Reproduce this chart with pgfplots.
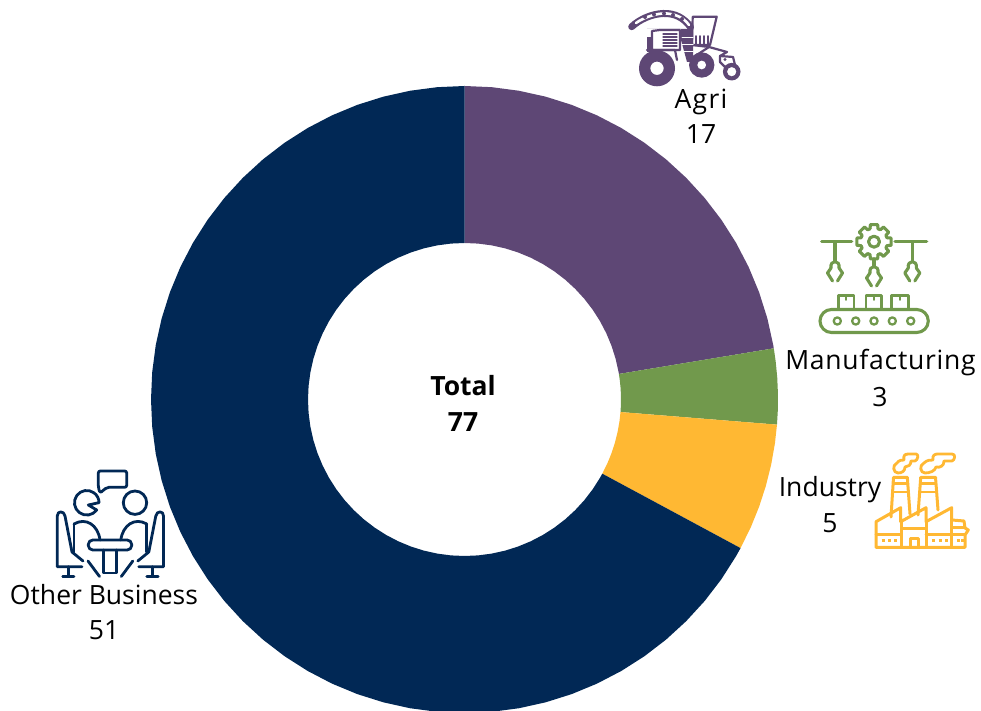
\documentclass[border=0pt]{standalone}
\usepackage{pgfplots}
\pgfplotsset{compat=1.18}
\usepackage{fontspec}
\setmainfont{Open Sans}
\definecolor{cAgri}{RGB}{94,71,117}
\definecolor{cMan}{RGB}{113,153,76}
\definecolor{cInd}{RGB}{255,184,51}
\definecolor{cOth}{RGB}{1,40,85}
\newcommand{\lab}{\fontsize{26.5}{36}\selectfont}
\newcommand{\halfperson}{%
  \draw (82,566.7) -- (57.3,566.7) -- (57.3,516) .. controls (57.3,510.5) and (64,510.5) .. (65,516) -- (72,552) -- (83,561);
  \draw (68.3,566.7) -- (68.3,576.5) (62.7,576.5) -- (74,576.5);
  \draw (74,524) .. controls (86,517) and (98,525) .. (100,540);
  \draw (74,524) -- (74,552);
  \draw (88,561) -- (99.5,576.5);
}
\begin{document}
\begin{tikzpicture}[x=1pt,y=1pt]
\useasboundingbox (0,0) rectangle (981,711);
% Shares: Agri 17, Manufacturing 3, Industry 5, Other Business 51; Total 77
\begin{axis}[at={(0,0)},anchor=south west,x=1pt,y=1pt,
  xmin=-464.5,xmax=516.5,ymin=-311.5,ymax=399.5,hide axis,clip=true]
\addplot[fill=cAgri,draw=none,data cs=polar] coordinates {
(90,313.5)(85,313.5)(80,313.5)(75,313.5)(70,313.5)(65,313.5)(60,313.5)(55,313.5)(50,313.5)(45,313.5)(40,313.5)(35,313.5)(30,313.5)(25,313.5)(20,313.5)(15,313.5)(10,313.5)(9.4,313.5)
(9.4,156.5)(10,156.5)(15,156.5)(20,156.5)(25,156.5)(30,156.5)(35,156.5)(40,156.5)(45,156.5)(50,156.5)(55,156.5)(60,156.5)(65,156.5)(70,156.5)(75,156.5)(80,156.5)(85,156.5)(90,156.5)} --cycle;
\addplot[fill=cMan,draw=none,data cs=polar] coordinates {
(9.4,313.5)(7,313.5)(4,313.5)(1,313.5)(-2,313.5)(-4.6,313.5)
(-4.6,156.5)(-2,156.5)(1,156.5)(4,156.5)(7,156.5)(9.4,156.5)} --cycle;
\addplot[fill=cInd,draw=none,data cs=polar] coordinates {
(-4.6,313.5)(-8,313.5)(-12,313.5)(-16,313.5)(-20,313.5)(-24,313.5)(-28.3,313.5)
(-28.3,156.5)(-24,156.5)(-20,156.5)(-16,156.5)(-12,156.5)(-8,156.5)(-4.6,156.5)} --cycle;
\addplot[fill=cOth,draw=none,data cs=polar] coordinates {
(-28.3,313.5)(-30,313.5)(-35,313.5)(-40,313.5)(-45,313.5)(-50,313.5)(-55,313.5)(-60,313.5)(-65,313.5)(-70,313.5)(-75,313.5)(-80,313.5)(-85,313.5)(-90,313.5)(-95,313.5)(-100,313.5)(-105,313.5)(-110,313.5)(-115,313.5)(-120,313.5)(-125,313.5)(-130,313.5)(-135,313.5)(-140,313.5)(-145,313.5)(-150,313.5)(-155,313.5)(-160,313.5)(-165,313.5)(-170,313.5)(-175,313.5)(-180,313.5)(-185,313.5)(-190,313.5)(-195,313.5)(-200,313.5)(-205,313.5)(-210,313.5)(-215,313.5)(-220,313.5)(-225,313.5)(-230,313.5)(-235,313.5)(-240,313.5)(-245,313.5)(-250,313.5)(-255,313.5)(-260,313.5)(-265,313.5)(-270,313.5)
(-270,156.5)(-265,156.5)(-260,156.5)(-255,156.5)(-250,156.5)(-245,156.5)(-240,156.5)(-235,156.5)(-230,156.5)(-225,156.5)(-220,156.5)(-215,156.5)(-210,156.5)(-205,156.5)(-200,156.5)(-195,156.5)(-190,156.5)(-185,156.5)(-180,156.5)(-175,156.5)(-170,156.5)(-165,156.5)(-160,156.5)(-155,156.5)(-150,156.5)(-145,156.5)(-140,156.5)(-135,156.5)(-130,156.5)(-125,156.5)(-120,156.5)(-115,156.5)(-110,156.5)(-105,156.5)(-100,156.5)(-95,156.5)(-90,156.5)(-85,156.5)(-80,156.5)(-75,156.5)(-70,156.5)(-65,156.5)(-60,156.5)(-55,156.5)(-50,156.5)(-45,156.5)(-40,156.5)(-35,156.5)(-30,156.5)(-28.3,156.5)} --cycle;
\end{axis}
% everything below is in image pixels, y downward
\begin{scope}[x=1pt,y=-1pt,yshift=711pt,line cap=round,line join=round]
% labels
\tikzset{t/.style={font=\lab,text=black,inner sep=0pt,anchor=base}}
\node[t] at (701,109) {\addfontfeature{LetterSpace=5}Agri};
\node[t] at (701,144) {17};
\node[t] at (880.5,370) {\addfontfeature{LetterSpace=2.8}Manufacturing};
\node[t] at (880,407) {3};
\node[t] at (830,497) {Industry};
\node[t] at (830,533) {5};
\node[t] at (104,605) {Other Business};
\node[t] at (104,640) {51};
\node[t,font=\lab\bfseries] at (463,396) {Total};
\node[t,font=\lab\bfseries] at (463,432) {77};
% tractor
\begin{scope}[draw=cAgri,fill=cAgri]
\draw[line width=7pt] (631.7,26.7) .. controls (640,19) and (652,14) .. (663,13.5) .. controls (675,13) and (684,18) .. (690.5,27);
\draw[white,line width=2.6pt] (636,23) .. controls (643,18) and (654,14) .. (663,13.5) .. controls (675,13) and (684,18) .. (689,25);
\foreach \p in {(645,17),(654,14.5),(664,13.5),(673,15),(682,19)} \fill \p circle (2);
\draw[line width=2.2pt] (692.7,16.7) -- (716.7,16.7) -- (710,45) -- (692,45) -- cycle;
\foreach \xx in {696,700,704,708} \draw[line width=1.5pt] (\xx,36) -- (\xx,44);
\draw[line width=2.2pt] (692,45) -- (709,47) -- (727,52) -- (720,56);
\fill (647,29) -- (693,29) -- (693,62) -- (687,62) -- (681,40) -- (681,29) -- cycle;
\fill[white] (652,31) rectangle (680,49);
\draw[line width=2.2pt] (652,31) -- (660,30) -- (680,30) -- (680,50) -- (652,50) -- cycle;
\foreach \yy in {34,37,40,43,46} \draw[line width=1.1pt] (663,\yy) -- (677,\yy);
\foreach \yy in {38,45,52} \draw[white,line width=1pt] (682,\yy) -- (693,\yy);
\fill (646.5,37) rectangle (652,52);
\draw[line width=2.2pt] (647,50) -- (675,50) -- (677,60);
\draw[line width=2.2pt] (689,60) -- (709,47);
\fill[even odd rule] (657,68.3) circle (18) (657,68.3) circle (6.7);
\fill[even odd rule] (701.7,65) circle (12.7) (701.7,65) circle (4.5);
\draw[line width=2.2pt,fill=white] (720,56) -- (733,57) -- (735,65) -- (725,67) -- (720,62) -- cycle;
\fill (725,59.5) circle (1.6);
\fill[even odd rule] (731.7,71.7) circle (8.8) (731.7,71.7) circle (4.7);
\end{scope}
% manufacturing
\begin{scope}[draw=cMan,line width=3.1pt]
\draw (821.7,241.7) -- (851.7,241.7);
\draw (895,241.7) -- (926.7,241.7);
\begin{scope}[shift={(874,241.7)}]
\foreach \a in {0,45,...,315}{
  \draw ({\a-17}:13.5) -- ({\a-12}:17.5) -- ({\a+12}:17.5) -- ({\a+17}:13.5)
    arc[start angle={\a+17},end angle={\a+28},radius=13.5];
}
\draw (0,0) circle (5.5);
\end{scope}
\foreach \xx/\ya/\yb in {835/242/265,874/259/270,912.3/242/265}{
  \begin{scope}[shift={(\xx,\yb)}]
  \draw (0,\ya-\yb) -- (0,-4);
  \draw (-4,3) .. controls (-5.5,-5.5) and (5.5,-5.5) .. (4,3);
  \draw (-4,3) -- (-7.5,8) -- (-2.5,16);
  \draw (4,3) -- (7.5,8) -- (2.5,16);
  \end{scope}
}
\draw[line width=2.6pt] (838.3,308) -- (838.3,295.5) -- (854,295.5) -- (854,308);
\draw[line width=2.6pt] (866,308) -- (866,295.5) -- (881.7,295.5) -- (881.7,308);
\draw[line width=2.6pt] (891.7,308) -- (891.7,295.5) -- (908.3,295.5) -- (908.3,308);
\foreach \xx in {846,874,900} \draw[line width=1.8pt] (\xx,296) -- (\xx,300);
\draw[rounded corners=11.5pt] (820,309.5) rectangle (928.3,332.5);
\foreach \xx in {837.3,855.7,874,892.3,910.7} \draw[line width=2.3pt] (\xx,321) circle (3.6);
\end{scope}
% factory
\begin{scope}[draw=cInd,line width=3pt]
\draw (876,547.3) -- (876,521.7) -- (900.7,507.7) -- (900.7,521.7) -- (926,507.7) -- (926,521.7) -- (951.7,507.7) -- (951.7,520) -- (964,521) -- (965,528) -- (968.3,530) -- (965,535) -- (965,547.3) -- cycle;
\draw (876,535) -- (900.7,535) (926,535) -- (951.7,535);
\draw (901.5,521.7) -- (901.5,547.3) (926,521.7) -- (926,547.3) (951.7,520) -- (951.7,547.3);
\draw (901.5,528.5) -- (926,528.5) (951.7,528) -- (965,528) (951.7,535) -- (965,535);
\draw (910,547.3) -- (910,538.5) -- (918.3,538.5) -- (918.3,547.3);
\foreach \xx in {881.5,888,894,932,938.5,945,956.5,961}
  \draw[line width=2.6pt,line cap=butt] (\xx,540.5) -- (\xx+3,540.5);
\draw (893.5,477.3) -- (907.3,477.3) -- (910,514) (893.5,477.3) -- (891,517);
\draw[line width=2.2pt] (893,483.5) -- (908,483.5) (892.5,491.7) -- (908.5,491.7);
\draw (920.7,477.3) -- (935.5,477.3) -- (938,510) (920.7,477.3) -- (918,515);
\draw[line width=2.2pt] (920,483.5) -- (936,483.5) (919.5,491.7) -- (936.5,491.7);
\draw[line width=2.8pt] (898,473) .. controls (893,473) and (892,465) .. (897,463) .. controls (899,460) and (902,460) .. (904,460) .. controls (903,455) and (905,454) .. (909,454) -- (916,454) .. controls (919,454) and (918,460) .. (915,461) -- (911,461) .. controls (911,465) and (908,467) .. (905,467) .. controls (905,471) and (902,473) .. (898,473) -- cycle;
\draw[line width=2.8pt] (925,473) .. controls (920,473) and (919,465) .. (924,463) .. controls (927,460) and (930,460) .. (933,460) .. controls (932,455) and (935,454) .. (938,454) -- (952,454) .. controls (956,454) and (955,460) .. (952,461) -- (944,461) .. controls (944,466) and (940,468) .. (936,467) .. controls (935,471) and (930,473) .. (925,473) -- cycle;
\end{scope}
% business
\begin{scope}[draw=cOth,line width=2.8pt]
\draw[rounded corners=2pt] (98.3,471) -- (126.7,471) -- (126.7,487.3) -- (107,487.3) -- (100,493) -- (98.3,487.3) -- cycle;
\draw (98.8,502.7) -- (88.3,505) -- (96.7,510) arc[start angle=36,end angle=360,radius=12.3];
\draw (135,502.7) circle (11.7);
\draw[rounded corners=4.5pt] (88.3,540) rectangle (131.7,550);
\draw (103.5,550) -- (103.5,573) -- (116.5,573) -- (116.5,550);
\halfperson
\begin{scope}[xshift=220.8pt,xscale=-1]
\halfperson
\end{scope}
\end{scope}
\end{scope}
\end{tikzpicture}
\end{document}
